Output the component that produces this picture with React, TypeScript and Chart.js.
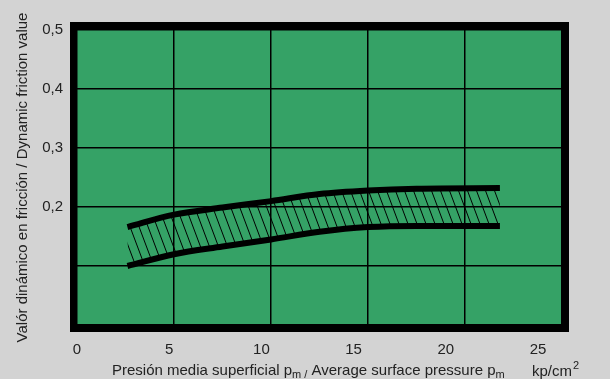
import React, { useEffect, useRef } from 'react';
import { Chart, registerables } from 'chart.js';

Chart.register(...registerables);

// Data
const upperX = [2.6, 5, 7.5, 10, 12.5, 15, 17.5, 21.8];
const upperY = [0.166, 0.187, 0.199, 0.21, 0.222, 0.228, 0.231, 0.232];
const lowerX = [2.6, 5, 7.5, 10, 12.5, 15, 17.5, 21.8];
const lowerY = [0.1, 0.12, 0.133, 0.145, 0.158, 0.166, 0.168, 0.168];
const xTickValues = [0, 5, 10, 15, 20, 25];
const yLabelled = [0.2, 0.3, 0.4, 0.5];
const yTitle = 'Valór dinámico en fricción / Dynamic friction value';
const xTitleParts = ['Presión media superficial p', 'm /', ' Average surface pressure p', 'm'];
const unitText = 'kp/cm';
const unitSup = '2';

const FONT = '"Liberation Sans", Arial, Helvetica, sans-serif';
const BG = '#d3d3d3';
const GREEN = '#35a266';

function makeHatch(): CanvasPattern | string {
  const c = document.createElement('canvas');
  c.width = 9;
  c.height = 24;
  const g = c.getContext('2d');
  if (!g) return 'rgba(0,0,0,0.3)';
  g.strokeStyle = '#000';
  g.lineWidth = 1;
  for (const dx of [-9, 0, 9]) {
    g.beginPath();
    g.moveTo(dx, 0);
    g.lineTo(dx + 9, 24);
    g.stroke();
  }
  return g.createPattern(c, 'repeat') || 'rgba(0,0,0,0.3)';
}

const framePlugin = {
  id: 'frame',
  beforeDraw(chart: any) {
    const { ctx, chartArea: a, width, height } = chart;
    ctx.save();
    ctx.fillStyle = BG;
    ctx.fillRect(0, 0, width, height);
    ctx.fillStyle = '#000';
    ctx.fillRect(a.left - 7, a.top - 8, a.right - a.left + 14, a.bottom - a.top + 15);
    ctx.fillStyle = GREEN;
    ctx.fillRect(a.left, a.top, a.right - a.left, a.bottom - a.top);
    ctx.restore();
  },
  afterDraw(chart: any) {
    const { ctx } = chart;
    ctx.save();
    ctx.fillStyle = '#222';
    ctx.textBaseline = 'alphabetic';
    ctx.textAlign = 'left';
    let x = 112;
    const base = 375;
    xTitleParts.forEach((t, i) => {
      const sub = i % 2 === 1;
      ctx.font = (sub ? '11px ' : '15px ') + FONT;
      ctx.fillText(t, x, sub ? base + 3 : base);
      x += ctx.measureText(t).width;
    });
    ctx.font = '15px ' + FONT;
    ctx.fillText(unitText, 532, base + 1);
    const w = ctx.measureText(unitText).width;
    ctx.font = '11px ' + FONT;
    ctx.fillText(unitSup, 532 + w + 1, base - 6);
    ctx.restore();
  },
};

export default function App() {
  const ref = useRef<HTMLCanvasElement>(null);
  useEffect(() => {
    document.body.style.margin = '0';
    document.body.style.background = BG;
    if (!ref.current) return;
    const hatch = makeHatch();
    const chart = new Chart(ref.current, {
      type: 'line',
      data: {
        datasets: [
          {
            data: upperX.map((x, i) => ({ x, y: upperY[i] })),
            borderColor: '#000',
            borderWidth: 6,
            pointRadius: 0,
            tension: 0.4,
            cubicInterpolationMode: 'monotone',
            fill: '+1',
            backgroundColor: hatch as any,
          },
          {
            data: lowerX.map((x, i) => ({ x, y: lowerY[i] })),
            borderColor: '#000',
            borderWidth: 6,
            pointRadius: 0,
            tension: 0.4,
            cubicInterpolationMode: 'monotone',
            fill: false,
          },
        ],
      },
      options: {
        animation: false,
        responsive: false,
        maintainAspectRatio: false,
        layout: { padding: { left: 0, top: 30, right: 48, bottom: 0 } },
        plugins: { legend: { display: false }, tooltip: { enabled: false } },
        scales: {
          x: {
            type: 'linear',
            position: 'bottom',
            min: 0,
            max: 25,
            ticks: { display: false, stepSize: 5 },
            grid: { color: '#000', lineWidth: 1.5, drawTicks: false },
            border: { display: false },
            afterFit: (s: any) => { s.height = 0; },
          },
          x2: {
            type: 'linear',
            position: 'bottom',
            min: 0,
            max: (25 * 485) / 461,
            afterBuildTicks: (s: any) => { s.ticks = xTickValues.map((v) => ({ value: v })); },
            ticks: {
              stepSize: 5,
              includeBounds: false,
              padding: 16,
              color: '#222',
              font: { size: 15, family: FONT },
              maxRotation: 0,
              autoSkip: false,
            },
            grid: { display: false, drawTicks: false },
            border: { display: false },
            afterFit: (s: any) => { s.height = 54; },
          },
          y: {
            type: 'linear',
            min: 0,
            max: 0.5,
            ticks: {
              stepSize: 0.1,
              padding: 14,
              color: '#222',
              font: { size: 15, family: FONT },
              callback: (v: any) => {
                const n = Number(v);
                return yLabelled.some((l) => Math.abs(l - n) < 1e-6) ? n.toFixed(1).replace('.', ',') : '';
              },
            },
            grid: { color: '#000', lineWidth: 1.5, drawTicks: false },
            border: { display: false },
            title: {
              display: true,
              text: yTitle,
              color: '#222',
              font: { size: 15, family: FONT },
              padding: { top: 14, bottom: 0 },
            },
            afterFit: (s: any) => { s.width = 77; },
          },
        },
      },
      plugins: [framePlugin],
    } as any);
    return () => chart.destroy();
  }, []);
  return (
    <div style={{ width: 610, height: 379 }}>
      <canvas ref={ref} width={610} height={379} style={{ display: 'block' }} />
    </div>
  );
}
